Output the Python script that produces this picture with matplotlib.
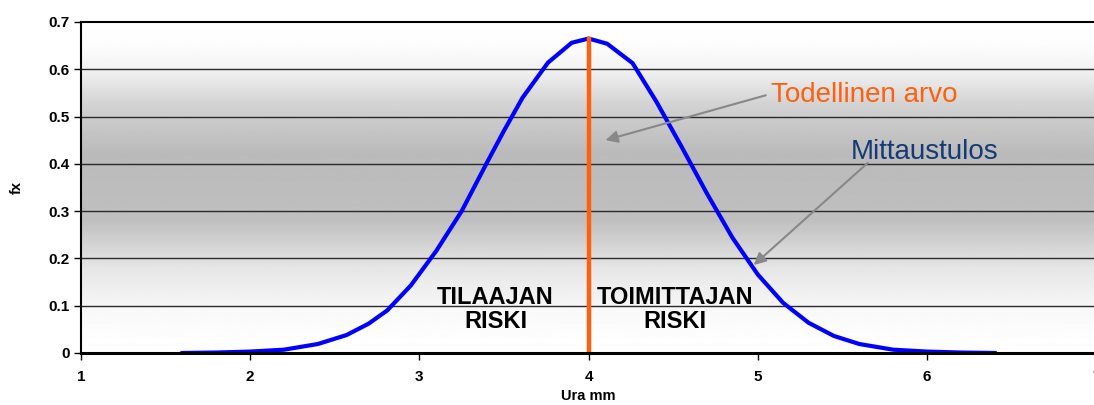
import matplotlib.pyplot as plt
import numpy as np

plt.rcParams['font.family'] = ['Liberation Sans', 'DejaVu Sans']

# measured groove depth (mm) and density
ura_mm = [1.6, 1.8, 2.0, 2.2, 2.4, 2.57, 2.7, 2.81, 2.95, 3.1, 3.25, 3.4, 3.5,
          3.61, 3.76, 3.9, 4.0, 4.11, 4.26, 4.4, 4.55, 4.7, 4.85, 5.0, 5.15,
          5.3, 5.45, 5.6, 5.8, 6.0, 6.2, 6.4]
fx = [0.000, 0.001, 0.003, 0.007, 0.019, 0.038, 0.062, 0.090, 0.143, 0.216,
      0.300, 0.403, 0.470, 0.540, 0.614, 0.656, 0.665, 0.654, 0.613, 0.532,
      0.436, 0.337, 0.244, 0.166, 0.106, 0.064, 0.036, 0.019, 0.007, 0.003,
      0.001, 0.000]
true_value = 4.0
true_fx = 0.665

xticks = [1, 2, 3, 4, 5, 6, 7]
yticks = [0, 0.1, 0.2, 0.3, 0.4, 0.5, 0.6, 0.7]
ytick_labels = ['0', '0.1', '0.2', '0.3', '0.4', '0.5', '0.6', '0.7']

fig = plt.figure(figsize=(10.94, 4.05), dpi=100)
ax = fig.add_axes([0.074, 0.1284, 0.928, 0.8173])

# grey band behind the plot, lightest at top and bottom
gy = np.linspace(0, 0.7, 300)
stops_y = [0.0, 0.08, 0.18, 0.28, 0.42, 0.52, 0.6, 0.65, 0.7]
stops_v = [1.0, 0.98, 0.90, 0.75, 0.73, 0.82, 0.95, 0.99, 1.0]
shade = np.interp(gy, stops_y, stops_v)[:, None] * np.ones((1, 2))
ax.imshow(shade, cmap='gray', vmin=0, vmax=1, origin='lower', aspect='auto',
          extent=[1, 7, 0, 0.7], zorder=0)

for yv in yticks[1:-1]:
    ax.axhline(yv, color='#2a2a2a', lw=1.0, zorder=1)

ax.plot(ura_mm, fx, color='#0000ff', lw=3, zorder=3)
ax.plot([true_value, true_value], [0, true_fx], color='#ff6010', lw=3.2, zorder=4)

ax.set_xlim(1, 7)
ax.set_ylim(0, 0.7)
ax.set_xticks(xticks)
ax.set_xticklabels([str(v) for v in xticks], fontweight='bold', fontsize=11)
ax.set_yticks(yticks)
ax.set_yticklabels(ytick_labels, fontweight='bold', fontsize=11)
ax.tick_params(axis='both', direction='out', length=5, width=1, color='black')
ax.tick_params(axis='x', pad=7)
ax.tick_params(axis='y', pad=3)

ax.spines['right'].set_visible(False)
ax.spines['top'].set_linewidth(1.5)
ax.spines['left'].set_linewidth(1.5)
ax.spines['bottom'].set_linewidth(2.2)
ax.spines['bottom'].set_zorder(5)

ax.set_xlabel('Ura mm', fontweight='bold', fontsize=10.5, labelpad=4)
ax.set_ylabel('fx', fontweight='bold', fontsize=10.5, labelpad=18)

ax.text(3.45, 0.092, 'TILAAJAN\nRISKI', ha='center', va='center',
        fontsize=17, fontweight='bold', linespacing=1.05, zorder=6)
ax.text(4.51, 0.092, 'TOIMITTAJAN\nRISKI', ha='center', va='center',
        fontsize=17, fontweight='bold', linespacing=1.05, zorder=6)

ax.text(5.08, 0.545, 'Todellinen arvo', color='#ff6010', fontsize=20,
        ha='left', va='center', zorder=6)
ax.text(5.55, 0.425, 'Mittaustulos', color='#163a75', fontsize=20,
        ha='left', va='center', zorder=6)

arrow = dict(arrowstyle='-|>', color='#888888', lw=1.5, mutation_scale=18,
             shrinkA=0, shrinkB=0)
ax.annotate('', xy=(4.10, 0.450), xytext=(5.047, 0.545), arrowprops=arrow, zorder=6)
ax.annotate('', xy=(4.976, 0.186), xytext=(5.65, 0.402), arrowprops=arrow, zorder=6)

fig.savefig('out.png', dpi=100)
